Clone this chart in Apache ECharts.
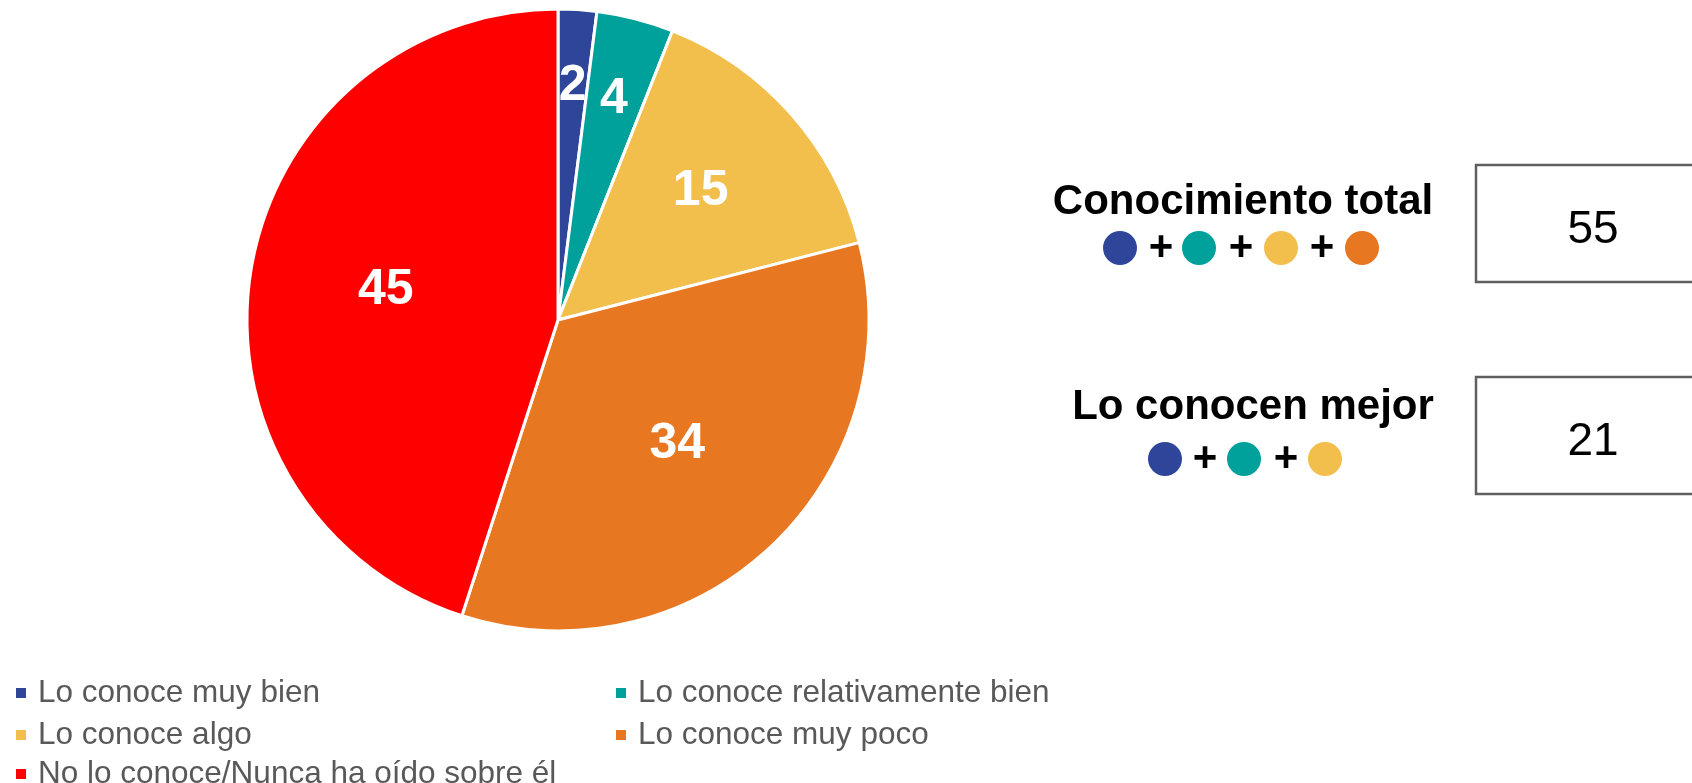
<!DOCTYPE html>
<html>
<head>
<meta charset="utf-8">
<script src="https://cdn.jsdelivr.net/npm/echarts@6/dist/echarts.min.js"></script>
<style>
html,body{margin:0;padding:0;background:#fff;}
#chart{width:1692px;height:783px;}
</style>
</head>
<body>
<div id="chart"></div>
<script>
// ---- data ----
var categories = [
  'Lo conoce muy bien',
  'Lo conoce relativamente bien',
  'Lo conoce algo',
  'Lo conoce muy poco',
  'No lo conoce/Nunca ha oído sobre él'
];
var values = [2, 4, 15, 34, 45];
var colors = ['#2F4599', '#00A09B', '#F2BF4C', '#E87722', '#FF0000'];
var summaryTitles = ['Conocimiento total', 'Lo conocen mejor'];
var summaryValues = [55, 21];
var summaryMembers = [[0, 1, 2, 3], [0, 1, 2]];

// ---- layout ----
var CX = 558, CY = 320, R = 311;
var FONT = '"Liberation Sans", Arial, sans-serif';

var chart = echarts.init(document.getElementById('chart'), null, {renderer: 'canvas'});

var pieData = categories.map(function (c, i) {
  return {name: c, value: values[i], itemStyle: {color: colors[i]}};
});

// legends: two columns
var legendPos = [
  [14, 677], [614, 677],
  [14, 719], [614, 719],
  [14, 758]
];
var legends = categories.map(function (c, i) {
  return {
    data: [c],
    left: legendPos[i][0],
    top: legendPos[i][1],
    padding: 0,
    itemWidth: 12,
    itemHeight: 12,
    icon: 'rect',
    selectedMode: false,
    textStyle: {
      fontFamily: FONT, fontSize: 31.5, color: '#595959',
      lineHeight: 32, padding: [0, 0, 0, 6]
    }
  };
});

// right panel graphics
var graphics = [];
var panel = [
  {titleX: 1243, titleY: 202, dotY: 248, dotXs: [1120, 1199, 1281, 1362], plusXs: [1161, 1241, 1322], boxY: 165, valY: 230},
  {titleX: 1253, titleY: 407, dotY: 459, dotXs: [1165, 1244, 1325], plusXs: [1205, 1286], boxY: 377, valY: 442}
];
panel.forEach(function (p, k) {
  graphics.push({
    type: 'text', x: p.titleX, y: p.titleY,
    style: {text: summaryTitles[k], font: 'bold 42px ' + FONT, fill: '#000', align: 'center', verticalAlign: 'middle'}
  });
  summaryMembers[k].forEach(function (ci, j) {
    graphics.push({
      type: 'circle', shape: {cx: p.dotXs[j], cy: p.dotY, r: 17},
      style: {fill: colors[ci]}
    });
  });
  p.plusXs.forEach(function (px) {
    graphics.push({
      type: 'text', x: px, y: p.dotY,
      style: {text: '+', font: 'bold 42px ' + FONT, fill: '#000', align: 'center', verticalAlign: 'middle'}
    });
  });
  graphics.push({
    type: 'rect', shape: {x: 1476, y: p.boxY, width: 300, height: 117},
    style: {fill: '#fff', stroke: '#5F5F5F', lineWidth: 2.5}
  });
  graphics.push({
    type: 'text', x: 1593, y: p.valY,
    style: {text: String(summaryValues[k]), font: '46px ' + FONT, fill: '#000', align: 'center', verticalAlign: 'middle'}
  });
});

function labelRadiusFraction(v) {
  var pct = v / values.reduce(function (a, b) { return a + b; }, 0) * 100;
  return 0.55 + 0.2 * (1 - Math.min(1, pct / 20));
}

var option = {
  animation: false,
  backgroundColor: '#fff',
  legend: legends,
  graphic: graphics,
  series: [{
    type: 'pie',
    center: [CX, CY],
    radius: [0, R],
    startAngle: 90,
    clockwise: true,
    data: pieData,
    itemStyle: {borderColor: '#fff', borderWidth: 3},
    label: {
      show: true,
      position: 'inside',
      formatter: '{c}',
      color: '#fff',
      fontFamily: FONT,
      fontWeight: 'bold',
      fontSize: 50
    },
    labelLayout: function (params) {
      var r = params.labelRect;
      var lx = r.x + r.width / 2, ly = r.y + r.height / 2;
      var f = labelRadiusFraction(values[params.dataIndex]);
      var k = f / 0.5 - 1;
      return {dx: (lx - CX) * k, dy: (ly - CY) * k - 3};
    },
    emphasis: {disabled: true}
  }]
};
chart.setOption(option);
</script>
</body>
</html>
